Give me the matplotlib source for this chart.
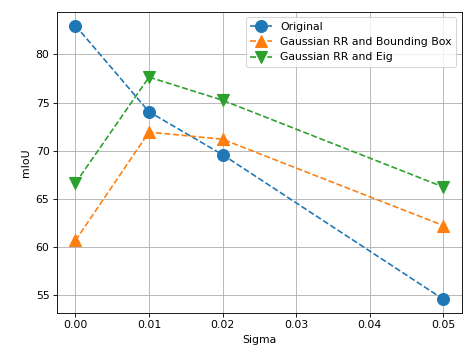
import matplotlib.pyplot as plt

sigma = [0.0, 0.01, 0.02, 0.05]
original = [83.0, 74.05, 69.6, 54.6]
rr_bbox = [60.7, 71.95, 71.2, 62.25]
rr_eig = [66.65, 77.65, 75.25, 66.25]

fig, ax = plt.subplots(figsize=(464 / 78, 350 / 78), dpi=78)
ax.plot(sigma, original, 'o--', markersize=11, label='Original')
ax.plot(sigma, rr_bbox, '^--', markersize=11, label='Gaussian RR and Bounding Box')
ax.plot(sigma, rr_eig, 'v--', markersize=11, label='Gaussian RR and Eig')
ax.set_xlabel('Sigma')
ax.set_ylabel('mIoU')
ax.grid(True)
ax.legend(loc='upper right')
fig.subplots_adjust(left=0.123, right=0.995, top=0.966, bottom=0.106)
fig.savefig('out.png')
